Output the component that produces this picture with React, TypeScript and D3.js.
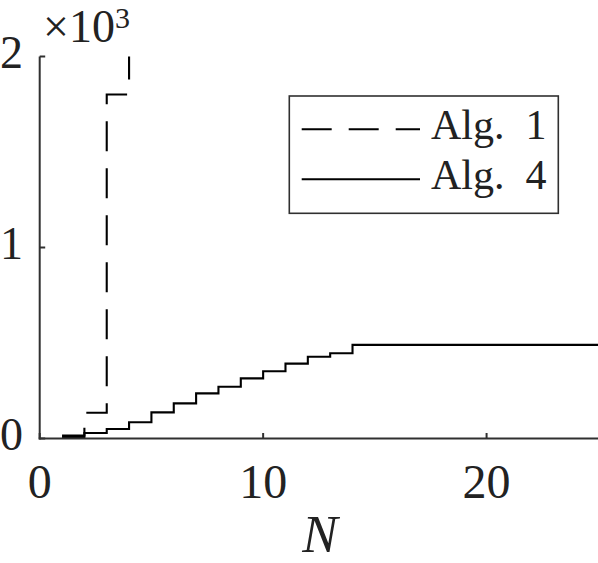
import React from "react";
import * as d3 from "d3";

// N values and run times (in thousands shown with the x10^3 factor)
const alg1N = [1, 2, 3, 4];
const alg1Values = [16, 135, 1801, 2600];

const alg4N = [1, 2, 3, 4, 5, 6, 7, 8, 9, 10, 11, 12, 13, 14, 15, 16, 17, 18, 19, 20, 21, 22, 23, 24, 25];
const alg4Values = [8, 29, 50, 85, 137, 184, 236, 271, 315, 352, 392, 428, 446, 490, 490, 490, 490, 490, 490, 490, 490, 490, 490, 490, 490];

const xTicks = [0, 10, 20];
const yTicks = [0, 1000, 2000];
const yTickLabels = ["0", "1", "2"];

const legendLabels = ["Alg.  1", "Alg.  4"];

const width = 598;
const height = 563;
const margin = { top: 56.5, right: 0, bottom: 124.5, left: 39.7 };
const serif = { fontFamily: "Liberation Serif" };
const axisColor = "#303030";

const App = () => {
  const x = d3
    .scaleLinear()
    .domain([0, 25])
    .range([margin.left, width - margin.right + 0.3]);
  const y = d3
    .scaleLinear()
    .domain([0, 2000])
    .range([height - margin.bottom, margin.top]);

  const stairs = d3
    .line<[number, number]>()
    .x((d) => x(d[0]))
    .y((d) => y(d[1]))
    .curve(d3.curveStepAfter);

  const alg1Path = stairs(alg1N.map((n, i) => [n, alg1Values[i]]));
  const alg4Path = stairs(alg4N.map((n, i) => [n, alg4Values[i]]));

  const y0 = y(0);
  const tickLen = 5.5;

  // legend layout
  const lgX = 289.3;
  const lgY = 96;
  const lgW = 269;
  const lgH = 117.3;
  const rowY = [129.3, 179.3];

  return (
    <svg
      width={width}
      height={height}
      style={{ position: "absolute", left: 0, top: 0, display: "block", background: "#fff" }}
    >
      <defs>
        <clipPath id="plotArea">
          <rect x={margin.left} y={margin.top} width={width - margin.left} height={y0 - margin.top + 3} />
        </clipPath>
      </defs>

      {/* data lines */}
      <g clipPath="url(#plotArea)" fill="none" stroke="#000" strokeWidth={2.1} strokeLinejoin="miter">
        <path d={alg1Path ?? ""} strokeDasharray="30,17" />
        <path d={alg4Path ?? ""} />
      </g>

      {/* axes */}
      <g stroke={axisColor} strokeWidth={2} fill="none">
        <line x1={x(0)} x2={x(0)} y1={y(2000)} y2={y0 + 1} />
        <line x1={x(0) - 1} x2={width} y1={y0} y2={y0} />
        {xTicks.map((t) => (
          <line key={"xt" + t} x1={x(t)} x2={x(t)} y1={y0} y2={y0 - tickLen} />
        ))}
        {yTicks.map((t) => (
          <line key={"yt" + t} x1={x(0)} x2={x(0) + tickLen} y1={y(t)} y2={y(t)} />
        ))}
      </g>

      {/* tick labels */}
      <g fill="#222">
        {xTicks.map((t) => (
          <text key={"xl" + t} x={x(t)} y={498} textAnchor="middle" fontSize={48} style={serif}>
            {t}
          </text>
        ))}
        {yTicks.map((t, i) => (
          <text key={"yl" + t} x={23} y={y(t) + 11} textAnchor="end" fontSize={46} style={serif}>
            {yTickLabels[i]}
          </text>
        ))}
      </g>

      {/* exponent */}
      <text fill="#222" fontSize={46} style={serif}>
        <tspan x={43} y={42}>×10</tspan>
        <tspan y={28} fontSize={30}>3</tspan>
      </text>

      {/* x label */}
      <text x={320} y={552} textAnchor="middle" fontStyle="italic" fontSize={53} fill="#222" style={serif}>
        N
      </text>

      {/* legend */}
      <g>
        <rect x={lgX} y={lgY} width={lgW} height={lgH} fill="#fff" stroke={axisColor} strokeWidth={1.6} />
        <line x1={301.7} x2={420} y1={rowY[0]} y2={rowY[0]} stroke="#000" strokeWidth={2.1} strokeDasharray="30,17" />
        <line x1={301.7} x2={420} y1={rowY[1]} y2={rowY[1]} stroke="#000" strokeWidth={2.1} />
        {legendLabels.map((l, i) => (
          <text
            key={l}
            x={431}
            y={rowY[i] + 9.5}
            fontSize={42}
            fill="#222"
            style={{ ...serif, whiteSpace: "pre" }}
          >
            {l}
          </text>
        ))}
      </g>
    </svg>
  );
};

export default App;
